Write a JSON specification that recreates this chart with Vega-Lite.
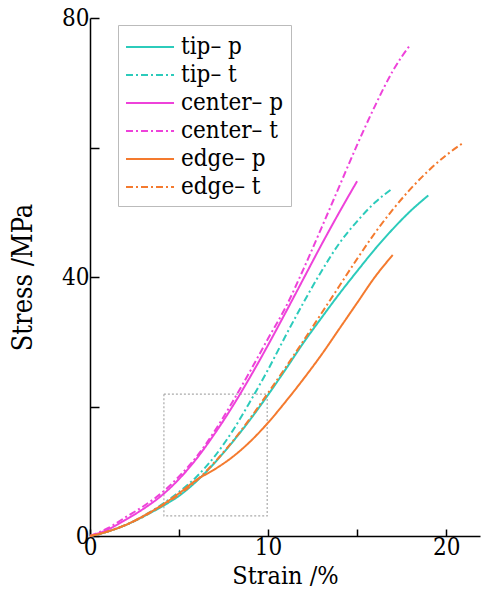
{
  "$schema": "https://vega.github.io/schema/vega-lite/v6.json",
  "width": 390,
  "height": 518,
  "autosize": {"type": "none"},
  "padding": {"left": 90, "top": 18, "right": 2, "bottom": 53},
  "config": {
    "font": "DejaVu Serif Condensed, DejaVu Serif",
    "view": {"stroke": null},
    "axis": {
      "grid": false,
      "domainColor": "black",
      "domainWidth": 1.5,
      "tickColor": "black",
      "tickWidth": 1.5,
      "labelFont": "DejaVu Serif Condensed, DejaVu Serif",
      "titleFont": "DejaVu Serif Condensed, DejaVu Serif",
      "labelFontSize": 24,
      "titleFontSize": 25,
      "titleFontWeight": "normal",
      "labelColor": "black",
      "titleColor": "black",
      "labelFlush": false,
      "labelOverlap": false
    }
  },
  "datasets": {
    "box": [{"x": 4.15, "x2v": 9.95, "y": 3.1, "y2v": 21.9}],
    "curves": [
      {"s": "tip– p", "x": 0, "y": 0}, {"s": "tip– p", "x": 1, "y": 0.7}, {"s": "tip– p", "x": 2, "y": 1.7}, {"s": "tip– p", "x": 3, "y": 3.0}, {"s": "tip– p", "x": 4, "y": 4.5}, {"s": "tip– p", "x": 5, "y": 6.2}, {"s": "tip– p", "x": 6, "y": 8.5}, {"s": "tip– p", "x": 7, "y": 11.3}, {"s": "tip– p", "x": 8, "y": 14.5}, {"s": "tip– p", "x": 9, "y": 18.0}, {"s": "tip– p", "x": 10, "y": 21.8}, {"s": "tip– p", "x": 11, "y": 25.8}, {"s": "tip– p", "x": 12, "y": 29.9}, {"s": "tip– p", "x": 13, "y": 33.7}, {"s": "tip– p", "x": 14, "y": 37.4}, {"s": "tip– p", "x": 15, "y": 40.9}, {"s": "tip– p", "x": 16, "y": 44.3}, {"s": "tip– p", "x": 17, "y": 47.4}, {"s": "tip– p", "x": 18, "y": 50.2}, {"s": "tip– p", "x": 19, "y": 52.6},
      {"s": "tip– t", "x": 0, "y": 0}, {"s": "tip– t", "x": 1, "y": 0.7}, {"s": "tip– t", "x": 2, "y": 1.7}, {"s": "tip– t", "x": 3, "y": 3.1}, {"s": "tip– t", "x": 4, "y": 4.8}, {"s": "tip– t", "x": 5, "y": 6.8}, {"s": "tip– t", "x": 6, "y": 9.2}, {"s": "tip– t", "x": 7, "y": 12.3}, {"s": "tip– t", "x": 8, "y": 16.2}, {"s": "tip– t", "x": 9, "y": 20.8}, {"s": "tip– t", "x": 10, "y": 25.7}, {"s": "tip– t", "x": 11, "y": 31.0}, {"s": "tip– t", "x": 12, "y": 36.1}, {"s": "tip– t", "x": 13, "y": 40.9}, {"s": "tip– t", "x": 14, "y": 45.2}, {"s": "tip– t", "x": 15, "y": 48.6}, {"s": "tip– t", "x": 16, "y": 51.5}, {"s": "tip– t", "x": 17, "y": 53.7},
      {"s": "center– p", "x": 0, "y": 0}, {"s": "center– p", "x": 1, "y": 1.0}, {"s": "center– p", "x": 2, "y": 2.5}, {"s": "center– p", "x": 3, "y": 4.2}, {"s": "center– p", "x": 4, "y": 6.2}, {"s": "center– p", "x": 5, "y": 8.8}, {"s": "center– p", "x": 6, "y": 12.0}, {"s": "center– p", "x": 7, "y": 15.8}, {"s": "center– p", "x": 8, "y": 20.0}, {"s": "center– p", "x": 9, "y": 24.6}, {"s": "center– p", "x": 10, "y": 29.5}, {"s": "center– p", "x": 11, "y": 34.6}, {"s": "center– p", "x": 12, "y": 39.8}, {"s": "center– p", "x": 13, "y": 45.0}, {"s": "center– p", "x": 14, "y": 50.0}, {"s": "center– p", "x": 15, "y": 54.8},
      {"s": "center– t", "x": 0, "y": 0}, {"s": "center– t", "x": 1, "y": 1.2}, {"s": "center– t", "x": 2, "y": 2.9}, {"s": "center– t", "x": 3, "y": 4.6}, {"s": "center– t", "x": 4, "y": 6.6}, {"s": "center– t", "x": 5, "y": 9.2}, {"s": "center– t", "x": 6, "y": 12.3}, {"s": "center– t", "x": 7, "y": 16.2}, {"s": "center– t", "x": 8, "y": 20.7}, {"s": "center– t", "x": 9, "y": 25.5}, {"s": "center– t", "x": 10, "y": 30.5}, {"s": "center– t", "x": 11, "y": 35.4}, {"s": "center– t", "x": 12, "y": 41.3}, {"s": "center– t", "x": 13, "y": 47.6}, {"s": "center– t", "x": 14, "y": 54.0}, {"s": "center– t", "x": 15, "y": 60.4}, {"s": "center– t", "x": 16, "y": 66.4}, {"s": "center– t", "x": 17, "y": 71.8}, {"s": "center– t", "x": 17.5, "y": 74.0}, {"s": "center– t", "x": 18, "y": 75.9},
      {"s": "edge– p", "x": 0, "y": 0}, {"s": "edge– p", "x": 1, "y": 0.7}, {"s": "edge– p", "x": 2, "y": 1.7}, {"s": "edge– p", "x": 3, "y": 3.1}, {"s": "edge– p", "x": 4, "y": 4.7}, {"s": "edge– p", "x": 5, "y": 6.6}, {"s": "edge– p", "x": 6, "y": 8.7}, {"s": "edge– p", "x": 7, "y": 10.3}, {"s": "edge– p", "x": 8, "y": 12.2}, {"s": "edge– p", "x": 9, "y": 14.6}, {"s": "edge– p", "x": 10, "y": 17.5}, {"s": "edge– p", "x": 11, "y": 20.8}, {"s": "edge– p", "x": 12, "y": 24.3}, {"s": "edge– p", "x": 13, "y": 28.0}, {"s": "edge– p", "x": 14, "y": 32.0}, {"s": "edge– p", "x": 15, "y": 36.0}, {"s": "edge– p", "x": 16, "y": 40.0}, {"s": "edge– p", "x": 17, "y": 43.4},
      {"s": "edge– t", "x": 0, "y": 0}, {"s": "edge– t", "x": 1, "y": 0.7}, {"s": "edge– t", "x": 2, "y": 1.7}, {"s": "edge– t", "x": 3, "y": 3.0}, {"s": "edge– t", "x": 4, "y": 4.6}, {"s": "edge– t", "x": 5, "y": 6.4}, {"s": "edge– t", "x": 6, "y": 8.6}, {"s": "edge– t", "x": 7, "y": 11.4}, {"s": "edge– t", "x": 8, "y": 14.6}, {"s": "edge– t", "x": 9, "y": 18.2}, {"s": "edge– t", "x": 10, "y": 22.1}, {"s": "edge– t", "x": 11, "y": 26.1}, {"s": "edge– t", "x": 12, "y": 30.2}, {"s": "edge– t", "x": 13, "y": 34.4}, {"s": "edge– t", "x": 14, "y": 38.6}, {"s": "edge– t", "x": 15, "y": 42.8}, {"s": "edge– t", "x": 16, "y": 46.8}, {"s": "edge– t", "x": 17, "y": 50.4}, {"s": "edge– t", "x": 18, "y": 53.6}, {"s": "edge– t", "x": 19, "y": 56.4}, {"s": "edge– t", "x": 20, "y": 58.8}, {"s": "edge– t", "x": 21, "y": 60.8}
    ]
  },
  "encoding": {
    "x": {
      "field": "x",
      "type": "quantitative",
      "scale": {"domain": [0, 21.9], "nice": false, "zero": false},
      "axis": {
        "title": "Strain /%",
        "values": [0, 5, 10, 15, 20],
        "labelExpr": "datum.value % 10 === 0 ? datum.label : ''",
        "tickSize": -7,
        "labelPadding": 6,
        "titlePadding": 4
      }
    },
    "y": {
      "field": "y",
      "type": "quantitative",
      "scale": {"domain": [0, 80], "nice": false},
      "axis": {
        "title": "Stress /MPa",
        "titleFontSize": 27,
        "values": [0, 20, 40, 60, 80],
        "labelExpr": "datum.value % 40 === 0 ? datum.label : ''",
        "tickSize": -9,
        "labelPadding": 10,
        "titlePadding": 24
      }
    }
  },
  "layer": [
    {
      "data": {"name": "box"},
      "mark": {"type": "rect", "fill": null, "stroke": "#aaaaaa", "strokeDash": [2, 2], "strokeWidth": 1.2},
      "encoding": {"x2": {"field": "x2v"}, "y2": {"field": "y2v"}}
    },
    {
      "data": {"name": "curves"},
      "mark": {"type": "line", "strokeWidth": 2, "interpolate": "monotone"},
      "encoding": {
        "color": {
          "field": "s",
          "type": "nominal",
          "scale": {
            "domain": ["tip– p", "tip– t", "center– p", "center– t", "edge– p", "edge– t"],
            "range": ["#2ccbbb", "#2ccbbb", "#ee42da", "#ee42da", "#f47a2e", "#f47a2e"]
          },
          "legend": {
            "title": null, "orient": "none", "legendX": 28, "legendY": 7,
            "symbolType": "M-1,0H2.43", "symbolSize": 784, "symbolStrokeWidth": 2,
            "labelFontSize": 24, "labelOffset": 26, "padding": 7, "rowPadding": 1,
            "strokeColor": "#bbbbbb", "fillColor": "white", "labelColor": "black", "labelFont": "DejaVu Serif Condensed, DejaVu Serif"
          }
        },
        "strokeDash": {
          "field": "s",
          "type": "nominal",
          "scale": {
            "domain": ["tip– p", "tip– t", "center– p", "center– t", "edge– p", "edge– t"],
            "range": [[1, 0], [7, 3, 2, 3], [1, 0], [7, 3, 2, 3], [1, 0], [7, 3, 2, 3]]
          },
          "legend": {
            "title": null, "orient": "none", "legendX": 28, "legendY": 7,
            "symbolType": "M-1,0H2.43", "symbolSize": 784, "symbolStrokeWidth": 2,
            "labelFontSize": 24, "labelOffset": 26, "padding": 7, "rowPadding": 1,
            "strokeColor": "#bbbbbb", "fillColor": "white", "labelColor": "black", "labelFont": "DejaVu Serif Condensed, DejaVu Serif"
          }
        }
      }
    }
  ]
}
